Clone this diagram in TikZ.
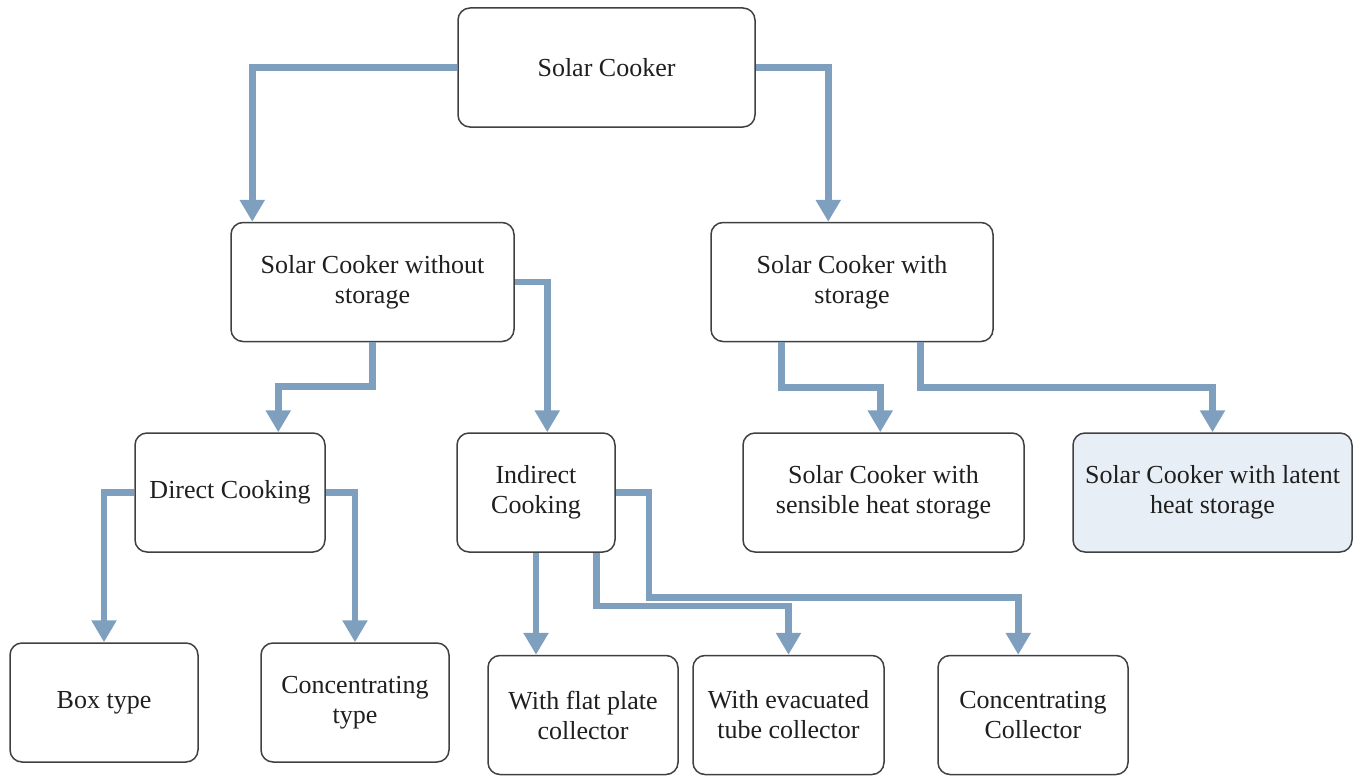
\documentclass[tikz,border=0pt]{standalone}
\usepackage{fontspec}
\setmainfont{Liberation Serif}
\usetikzlibrary{arrows.meta,calc}
\definecolor{linkblue}{RGB}{126,159,190}
\definecolor{boxline}{RGB}{64,64,64}
\definecolor{paleblue}{RGB}{231,238,246}
\begin{document}
\begin{tikzpicture}[x=1pt,y=-1pt,
  box/.style={draw=boxline, line width=1.5pt, rounded corners=12pt, fill=white,
    align=center, inner sep=0pt, text=black!88,
    font=\fontsize{26}{30}\selectfont},
  wide/.style={minimum width=#1, minimum height=119pt},
  conn/.style={draw=linkblue, line width=6.5pt,
    -{Triangle[width=24pt,length=22pt]}}]
\useasboundingbox (0,0) rectangle (1361,776);

% top level
\node[box, wide=297pt] (top) at (606.5,67.5) {Solar Cooker};

% second level
\node[box, wide=283pt] (wo) at (372.5,282) {Solar Cooker without\\storage};
\node[box, wide=282pt] (ws) at (852,282) {Solar Cooker with\\storage};

% third level
\node[box, wide=190pt] (dc) at (230,492.5) {Direct Cooking};
\node[box, wide=158pt] (ic) at (536,492.5) {Indirect\\Cooking};
\node[box, wide=281pt] (sh) at (883.5,492.5) {Solar Cooker with\\sensible heat storage};
\node[box, wide=279pt, fill=paleblue] (lh) at (1212.5,492.5) {Solar Cooker with latent\\heat storage};

% fourth level
\node[box, wide=188pt] (bt) at (104,702.5) {Box type};
\node[box, wide=188pt] (ct) at (355,702.5) {Concentrating\\type};
\node[box, wide=190pt] (fp) at (583,715) {With flat plate\\collector};
\node[box, wide=191pt] (et) at (788.5,715) {With evacuated\\tube collector};
\node[box, wide=190pt] (cc) at (1033,715) {Concentrating\\Collector};

% connectors
\draw[conn] (top.west) -| ($(wo.north west)+(22,0)$);
\draw[conn] (top.east) -| ($(ws.north west)+(118,0)$);

\draw[conn] (wo.south) -- ++(0,44) -| ($(dc.north west)+(144,0)$);
\draw[conn] (wo.east) -| ($(ic.north west)+(91,0)$);

\draw[conn] ($(ws.south west)+(71,0)$) -- ++(0,45) -| ($(sh.north west)+(138,0)$);
\draw[conn] ($(ws.south west)+(210,0)$) -- ++(0,45) -| (lh.north);

\draw[conn] (dc.west) -| (bt.north);
\draw[conn] (dc.east) -| (ct.north);

\draw[conn] (ic.south) -- (ic.south |- fp.north);
\draw[conn] ($(ic.south west)+(140,0)$) -- ++(0,53) -| (et.north);
\draw[conn] (ic.east) -- ++(33,0) -- ++(0,105) -| ($(cc.north west)+(81,0)$);
\end{tikzpicture}
\end{document}
